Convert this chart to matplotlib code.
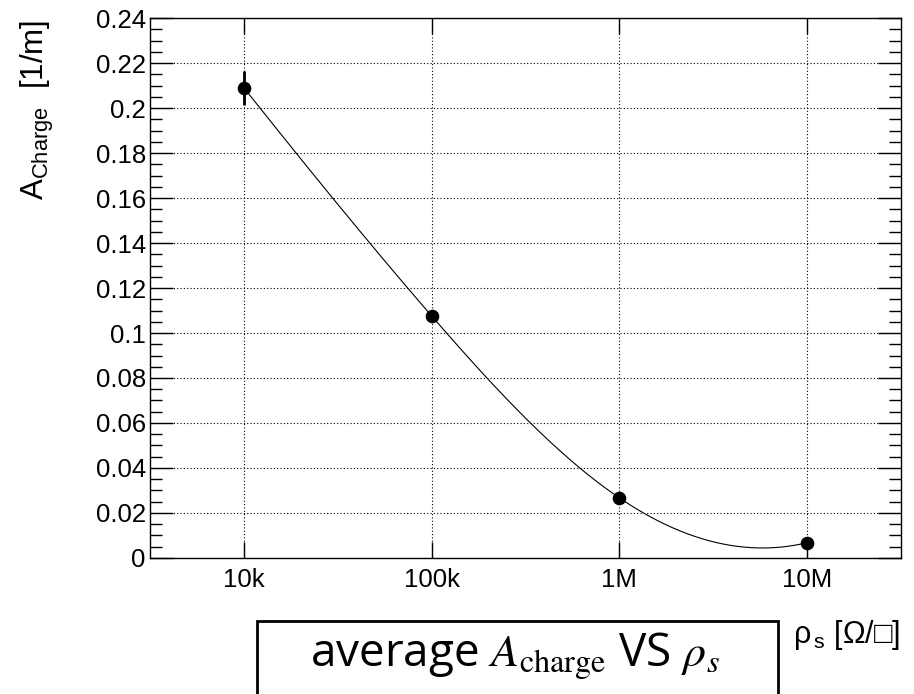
import numpy as np
import matplotlib
matplotlib.use('Agg')
import matplotlib.pyplot as plt
from matplotlib.patches import Rectangle
from matplotlib.ticker import MultipleLocator, FixedLocator, FixedFormatter, FuncFormatter

plt.rcParams['font.family'] = ['Liberation Sans', 'DejaVu Sans']
plt.rcParams['mathtext.fontset'] = 'custom'
plt.rcParams['mathtext.rm'] = 'Liberation Sans'
plt.rcParams['mathtext.it'] = 'Liberation Sans:italic'

# data
rho = [1e4, 1e5, 1e6, 1e7]
a_charge = [0.209, 0.1076, 0.0267, 0.0068]
a_err = [0.0075, 0.002, 0.0015, 0.0015]
xtick_vals = [1e4, 1e5, 1e6, 1e7]
xtick_labels = ['10k', '100k', '1M', '10M']


def clamped_spline(x, y, xs, d0, d1):
    # cubic spline with fixed end slopes (log-x space)
    x = np.asarray(x, float)
    y = np.asarray(y, float)
    n = len(x)
    h = np.diff(x)
    A = np.zeros((n, n))
    r = np.zeros(n)
    A[0, 0] = 2 * h[0]
    A[0, 1] = h[0]
    r[0] = 6 * ((y[1] - y[0]) / h[0] - d0)
    A[-1, -2] = h[-1]
    A[-1, -1] = 2 * h[-1]
    r[-1] = 6 * (d1 - (y[-1] - y[-2]) / h[-1])
    for i in range(1, n - 1):
        A[i, i - 1] = h[i - 1]
        A[i, i] = 2 * (h[i - 1] + h[i])
        A[i, i + 1] = h[i]
        r[i] = 6 * ((y[i + 1] - y[i]) / h[i] - (y[i] - y[i - 1]) / h[i - 1])
    m = np.linalg.solve(A, r)
    out = np.empty_like(xs)
    for k, xv in enumerate(xs):
        i = min(max(np.searchsorted(x, xv) - 1, 0), n - 2)
        t1 = x[i + 1] - xv
        t0 = xv - x[i]
        out[k] = (m[i] * t1**3 + m[i + 1] * t0**3) / (6 * h[i]) \
            + (y[i] / h[i] - m[i] * h[i] / 6) * t1 \
            + (y[i + 1] / h[i] - m[i + 1] * h[i] / 6) * t0
    return out


fig = plt.figure(figsize=(9.14, 6.94), dpi=100)
ax = fig.add_axes([0.1641, 0.196, 0.8217, 0.778])

lx = np.log10(rho)
xs = np.linspace(lx[0], lx[-1], 400)
ax.plot(10**xs, clamped_spline(lx, a_charge, xs, -0.105, 0.02), color='k', lw=0.8)
ax.errorbar(rho, a_charge, yerr=a_err, fmt='o', color='k', ms=8.8,
            elinewidth=2, capsize=0)

ax.set_xscale('log')
ax.set_xlim(10**3.5, 10**7.5)
ax.set_ylim(0, 0.24)

ax.xaxis.set_major_locator(FixedLocator(xtick_vals))
ax.xaxis.set_major_formatter(FixedFormatter(xtick_labels))
ax.xaxis.set_minor_locator(FixedLocator([]))
ax.yaxis.set_major_locator(MultipleLocator(0.02))
ax.yaxis.set_minor_locator(MultipleLocator(0.005))
ax.yaxis.set_major_formatter(FuncFormatter(lambda v, p: '%g' % round(v, 3)))

ax.tick_params(axis='y', which='major', direction='in', length=16.5, width=1,
               left=True, right=True, labelsize=18.5, pad=3)
ax.tick_params(axis='y', which='minor', direction='in', length=8.5, width=1,
               left=True, right=True)
ax.tick_params(axis='x', which='major', direction='in', length=11.5, width=1,
               bottom=True, top=True, labelsize=18.5, pad=7)
ax.grid(True, which='major', color='k', ls=(0, (1, 2)), lw=0.8)
for s in ax.spines.values():
    s.set_linewidth(1)

fig.text(0.041, 0.972, r'$\mathregular{A_{Charge}}$  [1/m]', rotation=90,
         ha='center', va='top', fontsize=22.5)
fig.text(0.985, 0.0735, r'$\mathregular{\rho_{\,s}}$ [Ω/□]', ha='right',
         va='baseline', fontsize=22)

box = Rectangle((257 / 914, -0.05), (778 - 257) / 914, (694 - 621) / 694 + 0.05,
                transform=fig.transFigure, fill=False, lw=2, ec='k', clip_on=False)
fig.add_artist(box)
fig.text(515 / 914, 28 / 694, r'average $A_{\mathrm{charge}}$ VS $\rho_s$',
         ha='center', va='baseline', fontsize=33, family=['Open Sans', 'DejaVu Sans'],
         math_fontfamily='stix')

fig.savefig('out.png', dpi=100)
